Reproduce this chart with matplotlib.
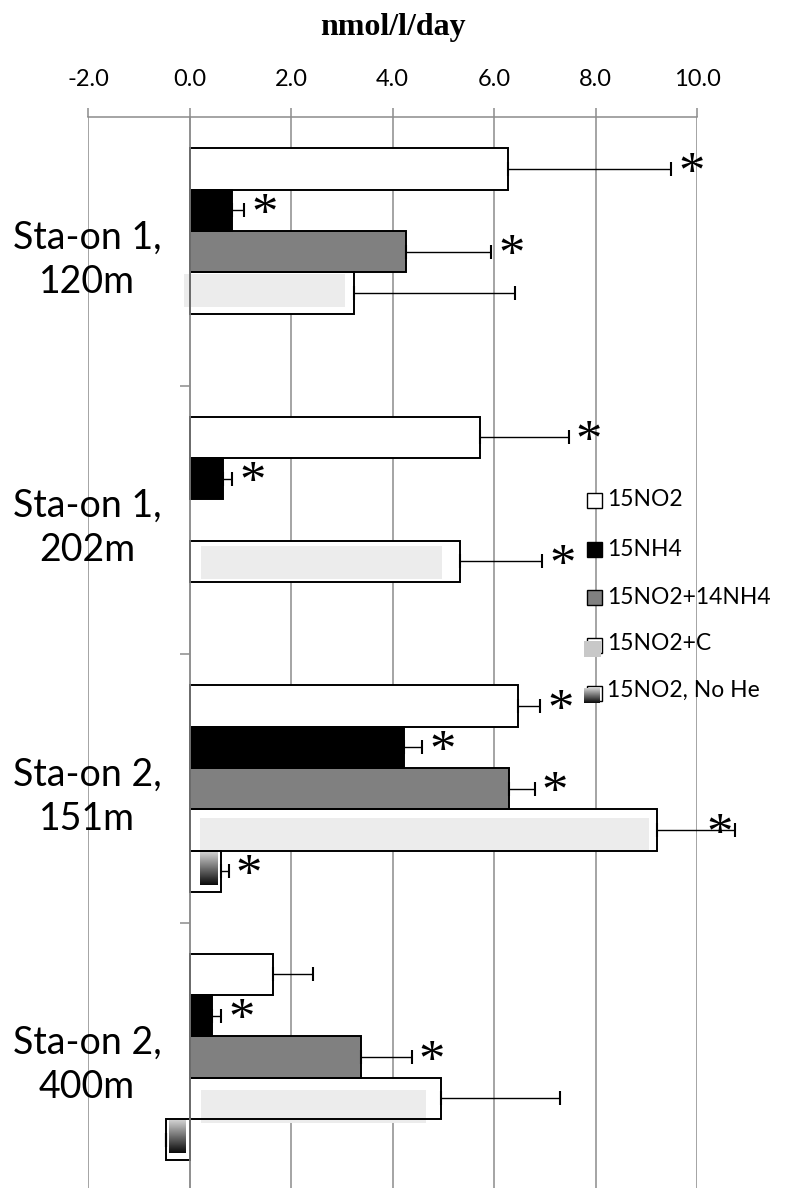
import numpy as np
import matplotlib
matplotlib.use("Agg")
import matplotlib.pyplot as plt
from matplotlib.patches import Rectangle
from matplotlib.colors import LinearSegmentedColormap

plt.rcParams["axes.unicode_minus"] = False

# rates in nmol/l/day, one-sided error, significance flag per bar
stations = ["Sta-on 1,\n120m", "Sta-on 1,\n202m", "Sta-on 2,\n151m", "Sta-on 2,\n400m"]
treatments = ["15NO2", "15NH4", "15NO2+14NH4", "15NO2+C", "15NO2, No He"]

no2 = [6.28, 5.72, 6.47, 1.65]
no2_err = [3.21, 1.75, 0.44, 0.78]
no2_sig = [True, True, True, False]

nh4 = [0.83, 0.66, 4.23, 0.45]
nh4_err = [0.25, 0.18, 0.35, 0.18]
nh4_sig = [True, True, True, True]

no2_nh4 = [4.27, np.nan, 6.30, 3.37]
no2_nh4_err = [1.68, np.nan, 0.50, 1.01]
no2_nh4_sig = [True, False, True, True]

no2_c = [3.25, 5.33, 9.21, 4.95]
no2_c_err = [3.16, 1.62, 1.53, 2.35]
no2_c_sig = [False, True, True, False]

no2_nohe = [np.nan, np.nan, 0.62, -0.46]
no2_nohe_err = [np.nan, np.nan, 0.15, 0.01]
no2_nohe_sig = [False, False, True, False]

x_ticks = [-2.0, 0.0, 2.0, 4.0, 6.0, 8.0, 10.0]

series = [
    (no2, no2_err, no2_sig, "white"),
    (nh4, nh4_err, nh4_sig, "black"),
    (no2_nh4, no2_nh4_err, no2_nh4_sig, "#808080"),
    (no2_c, no2_c_err, no2_c_sig, "white"),
    (no2_nohe, no2_nohe_err, no2_nohe_sig, "white"),
]

# look of the picture fill inside the 15NO2+C bars
tex_color = "#ececec"
tex_left = [-0.1, 0.22, 0.2, 0.22]
tex_right_inset = [0.18, 0.36, 0.15, 0.29]
tex_dy = [0.04, 0.12, 0.21, 0.29]
grad_cmap = LinearSegmentedColormap.from_list("nohe", ["#d0d0d0", "#0a0a0a"])
grad = np.linspace(0, 1, 64).reshape(-1, 1)

GRID = "#8c8c8c"
STAR_FS = 38
W, H = 788, 1188
fig = plt.figure(figsize=(W / 100, H / 100), dpi=100)
ax = fig.add_axes([88 / W, 1 - 1191.3 / H, 609 / W, 1074 / H])

n_ser = len(series)
h = 1 / (n_ser + 1.5)
cat_pos = np.arange(len(stations))

for j, (vals, errs, sig, face) in enumerate(series):
    vals = np.array(vals, dtype=float)
    errs = np.array(errs, dtype=float)
    ok = ~np.isnan(vals)
    y = cat_pos - 0.5 + 0.75 * h + (j + 0.5) * h
    ax.barh(y[ok], vals[ok], height=h, color=face, edgecolor="none", zorder=2)
    ax.barh(y[ok], vals[ok], height=h, fill=False, edgecolor="black", lw=1.4, zorder=2.3)

    lower = np.where(vals < 0, errs, 0)[ok]
    upper = np.where(vals < 0, 0, errs)[ok]
    eb = ax.errorbar(vals[ok], y[ok], xerr=[lower, upper], fmt="none", ecolor="black",
                     elinewidth=1.0, capsize=4.7, capthick=1.5, zorder=2.4)
    for art in eb.lines[1] + eb.lines[2]:
        art.set_clip_on(False)

    for i in np.where(ok)[0]:
        v = vals[i]
        top = y[i] - h / 2
        if j == 3:
            ax.add_patch(Rectangle((tex_left[i], top + tex_dy[i] * h),
                                   v - tex_right_inset[i] - tex_left[i], 0.8 * h,
                                   facecolor=tex_color, edgecolor="none", zorder=2.1))
        if j == 4:
            lo, hi = min(0, v), max(0, v)
            x0 = lo + (0.2 if v > 0 else 0.05)
            x1 = hi - 0.08
            ax.imshow(grad, cmap=grad_cmap, aspect="auto", zorder=2.1,
                      extent=(x0, x1, top + 0.83 * h, top + 0.05 * h))
        if sig[i]:
            end = v + np.sign(v) * errs[i]
            ax.annotate("*", xy=(min(end + 0.4, 10.45), y[i]),
                        xytext=(0, 3.6 - 0.45 * STAR_FS), textcoords="offset points",
                        ha="center", va="baseline", fontsize=STAR_FS,
                        family="Liberation Serif", zorder=3, annotation_clip=False)

ax.set_xlim(-2, 10)
ax.set_ylim(len(stations) - 0.5, -0.5)

ax.set_xticks(x_ticks)
ax.set_xticklabels([f"{t:.1f}" for t in x_ticks], family="Lato", fontsize=17)
ax.xaxis.set_ticks_position("top")
ax.tick_params(axis="x", direction="out", length=6.5, width=1.1, color=GRID, pad=13)
ax.xaxis.grid(True, color=GRID, lw=1.1)
ax.set_axisbelow(True)

ax.set_yticks(cat_pos[:-1] + 0.5)
ax.set_yticklabels([])
ax.tick_params(axis="y", direction="out", length=7.5, width=1.1, color=GRID)

for side in ["right", "bottom"]:
    ax.spines[side].set_visible(False)
ax.spines["top"].set_color(GRID)
ax.spines["top"].set_linewidth(1.1)
ax.spines["left"].set_position(("data", 0))
ax.spines["left"].set_color(GRID)
ax.spines["left"].set_linewidth(1.1)

for i, name in enumerate(stations):
    ax.text(-2.02, i + 0.03, name, ha="center", va="center", family="Lato",
            fontsize=27, linespacing=1.3, clip_on=False)

fig.text(392.5 / W, 1 - 27 / H, "nmol/l/day", ha="center", va="center",
         family="Liberation Serif", weight="bold", fontsize=23)


# legend, drawn in figure pixels
def fig_rect(x0, y0, w, hh, **kw):
    r = Rectangle((x0 / W, 1 - (y0 + hh) / H), w / W, hh / H, transform=fig.transFigure, **kw)
    fig.add_artist(r)


leg_y = [500, 549, 597, 644, 690]
for k, (name, yy) in enumerate(zip(treatments, leg_y)):
    face = series[k][3]
    if k < 3:
        fig_rect(587, yy - 7, 15, 15, facecolor=face, edgecolor="black", lw=1.0)
    elif k == 3:
        fig_rect(587, yy - 6, 15, 15, facecolor="white", edgecolor="black", lw=1.0)
        fig_rect(584, yy - 3, 17, 16, facecolor="#c8c8c8", edgecolor="none")
    else:
        fig_rect(587, yy - 4, 15, 15, facecolor="white", edgecolor="black", lw=1.0)
        gax = fig.add_axes([584 / W, 1 - (yy + 13) / H, 16 / W, 15 / H])
        gax.set_zorder(5)
        gax.imshow(grad, cmap=grad_cmap, aspect="auto")
        gax.axis("off")
    fig.text(607 / W, 1 - yy / H, name, ha="left", va="center", family="Lato", fontsize=16.5)

fig.savefig("out.png", dpi=100)
